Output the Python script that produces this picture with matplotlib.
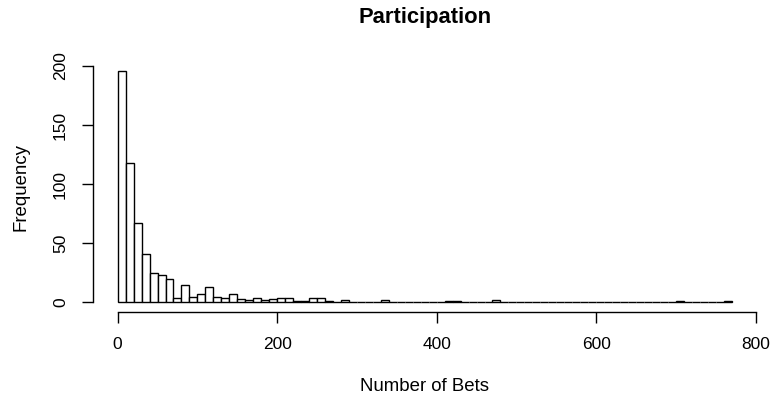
import numpy as np
import matplotlib
matplotlib.use('Agg')
import matplotlib.pyplot as plt

plt.rcParams['font.family'] = ['Liberation Sans', 'DejaVu Sans']

# histogram counts, bins of width 10 from 0 to 770
bin_start = 0
bin_width = 10
counts = [196, 118, 67, 41, 25, 23, 20, 4, 15, 5,
          7, 13, 5, 4, 7, 3, 2, 4, 2, 3,
          4, 4, 1, 1, 4, 4, 1, 0, 2, 0,
          0, 0, 0, 2, 0, 0, 0, 0, 0, 0,
          0, 1, 1, 0, 0, 0, 0, 2, 0, 0,
          0, 0, 0, 0, 0, 0, 0, 0, 0, 0,
          0, 0, 0, 0, 0, 0, 0, 0, 0, 0,
          1, 0, 0, 0, 0, 0, 1]
x_ticks = [0, 200, 400, 600, 800]
y_ticks = [0, 50, 100, 150, 200]

edges = bin_start + bin_width * np.arange(len(counts) + 1)

fig = plt.figure(figsize=(7.74, 4.0), dpi=100)
ax = fig.add_axes([93.1 / 774, 1 - 311.7 / 400, 663.2 / 774, 250.2 / 400])

ax.bar(edges[:-1], counts, width=bin_width, align='edge',
       facecolor='white', edgecolor='black', linewidth=1.0)

# R style ranges: 4% padding on each side
xr = edges[-1] - edges[0]
ax.set_xlim(edges[0] - 0.04 * xr, edges[-1] + 0.04 * xr)
ax.set_ylim(-0.04 * max(counts), 1.04 * max(counts))

ax.spines['top'].set_visible(False)
ax.spines['right'].set_visible(False)
ax.spines['bottom'].set_bounds(x_ticks[0], x_ticks[-1])
ax.spines['left'].set_bounds(y_ticks[0], y_ticks[-1])
for s in ('bottom', 'left'):
    ax.spines[s].set_linewidth(1.0)

ax.set_xticks(x_ticks)
ax.set_yticks(y_ticks)
ax.tick_params(axis='both', length=8, width=1.0, labelsize=12.5, pad=10)
for lab in ax.get_yticklabels():
    lab.set_rotation(90)
    lab.set_va('center')

ax.set_xlabel('Number of Bets', fontsize=13.4, labelpad=19)
ax.set_ylabel('Frequency', fontsize=13.4, labelpad=17)
fig.text(0.5 * (93.1 + 756.3) / 774, 1 - 17 / 400, 'Participation',
         fontsize=15.8, fontweight='bold', ha='center', va='center')

fig.savefig('out.png', dpi=100)
